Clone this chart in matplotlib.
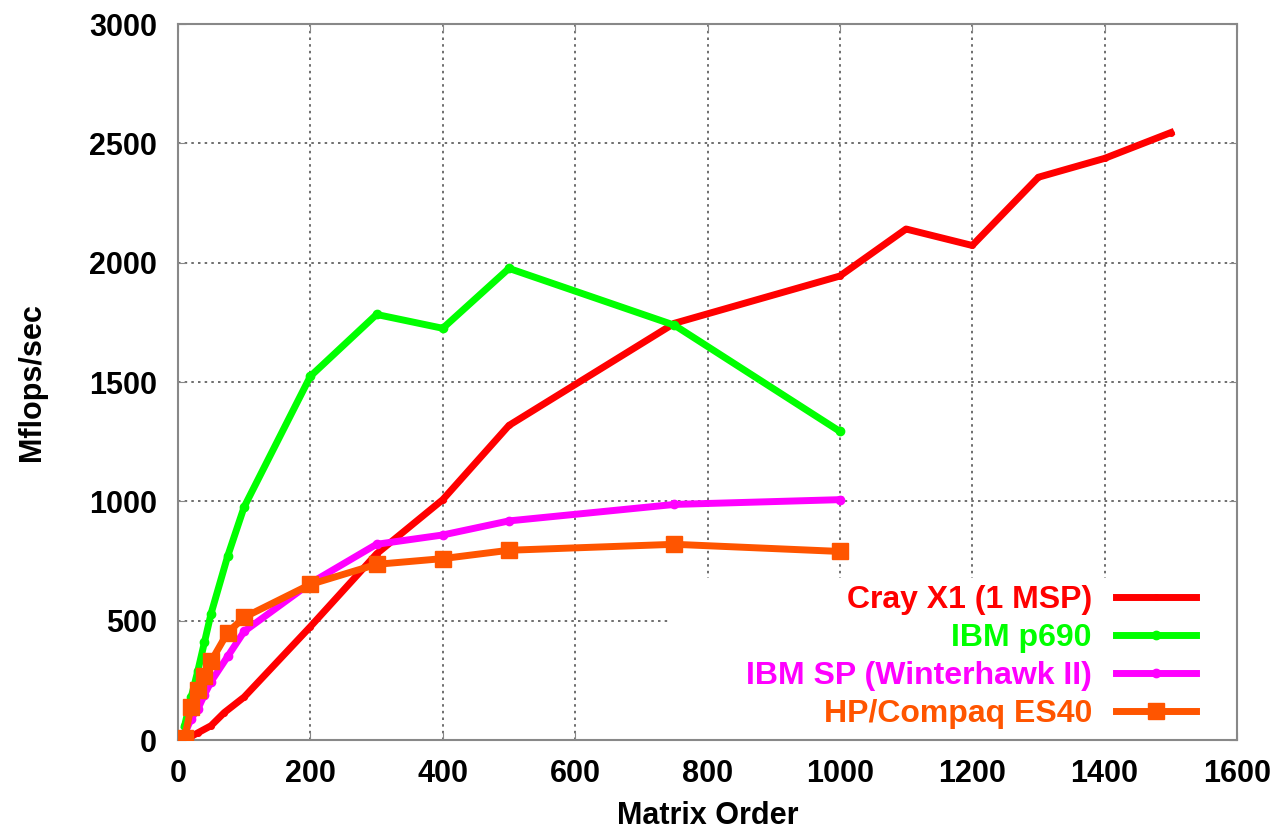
import numpy as np
import matplotlib.pyplot as plt
from matplotlib.patches import Rectangle

# data
cray_x = [10, 20, 30, 50, 70, 100, 200, 300, 400, 500, 750, 1000, 1100, 1200, 1300, 1400, 1500]
cray_y = [5, 15, 30, 60, 115, 180, 475, 780, 1007, 1318, 1746, 1944, 2141, 2072, 2358, 2437, 2545]

p690_x = [10, 20, 30, 40, 50, 75, 100, 200, 300, 400, 500, 750, 1000]
p690_y = [60, 180, 290, 410, 530, 770, 977, 1524, 1783, 1725, 1976, 1738, 1293]

sp_x = [10, 20, 30, 40, 50, 75, 100, 200, 300, 400, 500, 750, 1000]
sp_y = [25, 90, 130, 190, 245, 350, 455, 657, 820, 859, 918, 987, 1007]

es40_x = [10, 20, 30, 40, 50, 75, 100, 200, 300, 400, 500, 750, 1000]
es40_y = [10, 140, 210, 270, 330, 450, 514, 652, 736, 760, 795, 820, 790]

labels = ["Cray X1 (1 MSP)", "IBM p690", "IBM SP (Winterhawk II)", "HP/Compaq ES40"]
colors = ["#ff0000", "#00ff00", "#ff00ff", "#ff5500"]

plt.rcParams['font.family'] = ['Liberation Sans', 'DejaVu Sans']
plt.rcParams['font.weight'] = 'bold'

fig = plt.figure(figsize=(12.8, 8.33), dpi=100)
ax = fig.add_axes([178/1280, 93/833, (1237-178)/1280, (740-24)/833])

ax.plot(cray_x, cray_y, color=colors[0], lw=5, marker='o', ms=4, label=labels[0], zorder=3)
ax.plot(p690_x, p690_y, color=colors[1], lw=5, marker='o', ms=6, label=labels[1], zorder=3)
ax.plot(sp_x, sp_y, color=colors[2], lw=5, marker='o', ms=6, label=labels[2], zorder=3)
ax.plot(es40_x, es40_y, color=colors[3], lw=5, marker='s', ms=11, label=labels[3], zorder=3)

ax.set_xlim(0, 1600)
ax.set_ylim(0, 3000)
ax.set_xticks(np.arange(0, 1601, 200))
ax.set_yticks(np.arange(0, 3001, 500))
ax.grid(True, color='#555555', linestyle=(0, (1.5, 2.5)), lw=1.2)
ax.set_axisbelow(True)
for s in ax.spines.values():
    s.set_color('#888888')
    s.set_linewidth(1.5)
ax.tick_params(direction='in', labelsize=22, length=6, color='#888888',
               top=True, right=True)
ax.tick_params(axis='x', pad=14)
ax.tick_params(axis='y', pad=15)
ax.set_xlabel("Matrix Order", fontsize=22, fontweight='bold', labelpad=8)
ax.set_ylabel("Mflops/sec", fontsize=22, fontweight='bold', labelpad=30)

# white patch behind the legend, hides the grid there
x0 = (670 - 178) / (1237 - 178)
y1 = (740 - 578) / (740 - 24)
ax.add_patch(Rectangle((x0, 0), 1 - x0, y1, transform=ax.transAxes,
                       facecolor='white', edgecolor='none', zorder=1))

hx = (1207 - 178) / (1237 - 178)
leg = ax.legend(loc='lower right', bbox_to_anchor=(hx, 0.0), markerfirst=False,
                frameon=False, fontsize=23, labelcolor='linecolor',
                handlelength=2.5, handletextpad=0.75, borderpad=0,
                borderaxespad=0.35, labelspacing=0.25)

fig.savefig("out.png", dpi=100)
